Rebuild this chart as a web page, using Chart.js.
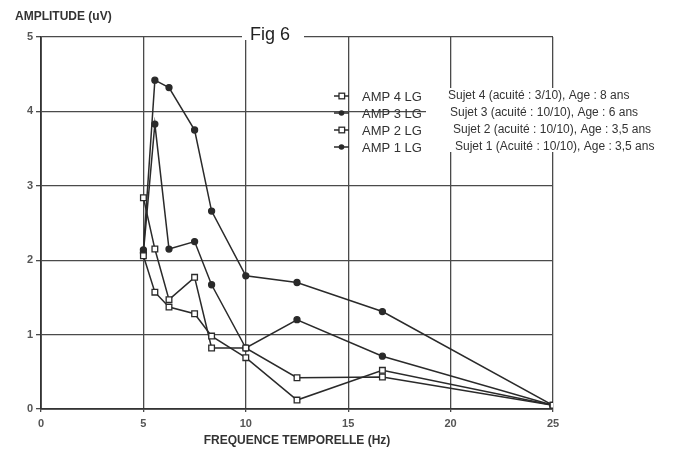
<!DOCTYPE html>
<html>
<head>
<meta charset="utf-8">
<title>Fig 6</title>
<script src="https://cdn.jsdelivr.net/npm/chart.js@4/dist/chart.umd.min.js"></script>
<style>
    html, body { margin: 0; padding: 0; background: #fff; }
    #wrap { width: 680px; height: 455px; position: relative; }
</style>
</head>
<body>
<div id="wrap"><canvas id="myChart" width="680" height="455"></canvas></div>
<script>
(() => {
    "use strict";

    // Values
    const frequencies = [5, 5.56, 6.25, 7.5, 8.33, 10, 12.5, 16.67, 25];
    const amp4 = [2.06, 1.57, 1.37, 1.28, 0.98, 0.69, 0.12, 0.52, 0.05];
    const amp3 = [2.14, 4.42, 4.32, 3.75, 2.66, 1.79, 1.70, 1.31, 0.05];
    const amp2 = [2.84, 2.15, 1.47, 1.77, 0.82, 0.82, 0.42, 0.43, 0.05];
    const amp1 = [2.10, 3.83, 2.15, 2.25, 1.67, 0.82, 1.20, 0.71, 0.05];

    const seriesLabels = ["AMP 4 LG", "AMP 3 LG", "AMP 2 LG", "AMP 1 LG"];
    const seriesNotes = [
        "Sujet 4 (acuité : 3/10), Age : 8 ans",
        "Sujet 3 (acuité : 10/10), Age : 6 ans",
        "Sujet 2 (acuité : 10/10), Age : 3,5 ans",
        "Sujet 1 (Acuité : 10/10), Age : 3,5 ans"
    ];
    const seriesValues = [amp4, amp3, amp2, amp1];
    const seriesMarkers = ["rect", "circle", "rect", "circle"];

    const ink = "#2a2a2a";
    const grid = "#4a4a4a";
    const font = "'Liberation Sans', Arial, sans-serif";

    const datasets = seriesValues.map((vals, i) => ({
        label: seriesLabels[i],
        data: vals.map((v, j) => ({ x: frequencies[j], y: v })),
        showLine: true,
        tension: 0,
        borderColor: ink,
        borderWidth: 1.5,
        pointStyle: seriesMarkers[i],
        pointRadius: seriesMarkers[i] === "rect" ? 4 : 3,
        pointBorderWidth: 1.3,
        pointBorderColor: ink,
        pointBackgroundColor: seriesMarkers[i] === "rect" ? "#fff" : ink
    }));

    // texts drawn on top: y title, "Fig 6", two-column legend
    const extras = {
        id: "extras",
        afterDraw(chart) {
            const c = chart.ctx;
            const area = chart.chartArea;
            c.save();

            c.fillStyle = "#333";
            c.font = "bold 12px " + font;
            c.textAlign = "left";
            c.textBaseline = "middle";
            c.fillText("AMPLITUDE (uV)", 15, 17);

            c.fillStyle = "#fff";
            c.fillRect(242, area.top - 3, 62, 6);
            c.fillStyle = "#222";
            c.font = "18px " + font;
            c.fillText("Fig 6", 250, area.top - 2);

            c.fillStyle = "#fff";
            c.fillRect(426, 88, 254, 64);

            const rowY = [96, 113, 130, 147];
            const noteX = [448, 450, 453, 455];
            seriesLabels.forEach((lab, i) => {
                const y = rowY[i];
                c.strokeStyle = ink;
                c.lineWidth = 1.5;
                c.beginPath();
                c.moveTo(334, y);
                c.lineTo(349, y);
                c.stroke();
                c.lineWidth = 1.3;
                if (seriesMarkers[i] === "rect") {
                    c.fillStyle = "#fff";
                    c.fillRect(339, y - 2.8, 5.6, 5.6);
                    c.strokeRect(339, y - 2.8, 5.6, 5.6);
                } else {
                    c.fillStyle = ink;
                    c.beginPath();
                    c.arc(341.5, y, 2.8, 0, Math.PI * 2);
                    c.fill();
                }
                c.fillStyle = "#333";
                c.font = "13px " + font;
                c.fillText(lab, 362, y + 1);
                c.font = "12px " + font;
                c.fillText(seriesNotes[i], noteX[i], y);
            });
            c.restore();
        }
    };

    const ctx = document.getElementById("myChart").getContext("2d");
    // eslint-disable-next-line no-unused-vars
    const myChart = new Chart(ctx, {
        type: "scatter",
        data: { datasets },
        options: {
            responsive: false,
            animation: false,
            layout: { padding: { top: 37, right: 127, left: 0, bottom: 7 } },
            plugins: {
                legend: { display: false },
                tooltip: { enabled: false }
            },
            scales: {
                x: {
                    type: "linear",
                    min: 0,
                    max: 25,
                    ticks: {
                        stepSize: 5,
                        color: "#555",
                        font: { family: font, size: 11, weight: "bold" },
                        padding: 5
                    },
                    grid: { color: grid, lineWidth: 1.3, tickLength: 3 },
                    border: { color: "#333", width: 1.8 },
                    title: {
                        display: true,
                        text: "FREQUENCE TEMPORELLE (Hz)",
                        color: "#333",
                        font: { family: font, size: 12, weight: "bold" },
                        padding: { top: 2, bottom: 0 }
                    },
                    afterFit(scale) { scale.height = 39; }
                },
                y: {
                    min: 0,
                    max: 5,
                    ticks: {
                        stepSize: 1,
                        color: "#555",
                        font: { family: font, size: 11, weight: "bold" },
                        padding: 3
                    },
                    grid: { color: grid, lineWidth: 1.3, tickLength: 5 },
                    border: { color: "#333", width: 1.8 },
                    afterFit(scale) { scale.width = 41; }
                }
            }
        },
        plugins: [extras]
    });
})();
</script>
</body>
</html>
